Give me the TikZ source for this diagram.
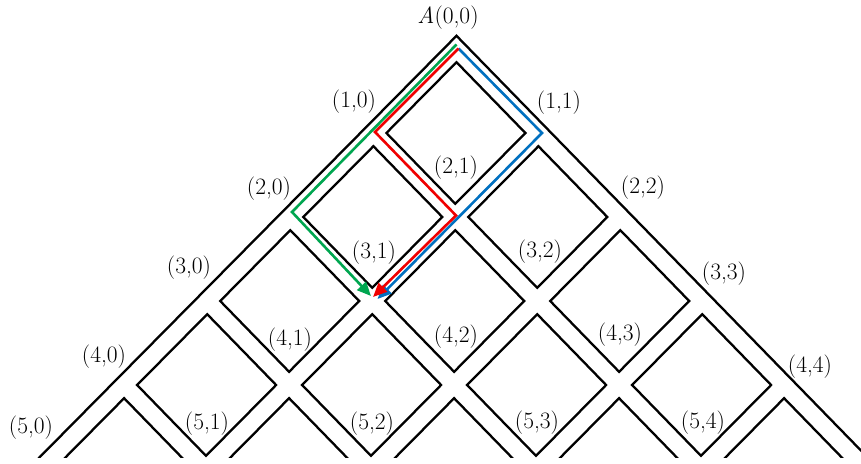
\documentclass[tikz,border=0pt]{standalone}
\usepackage{fontspec}
\usetikzlibrary{arrows.meta,calc}
\definecolor{pgreen}{RGB}{0,166,80}
\definecolor{pred}{RGB}{240,0,0}
\definecolor{pblue}{RGB}{0,112,192}
\begin{document}
\begin{tikzpicture}[x=1pt,y=-1pt,
  street/.style={draw=black,line width=2.3pt},
  lab/.style={font=\fontsize{23.5}{28}\selectfont,inner sep=0pt},
  route/.style={line width=2.6pt,-{Triangle[length=14pt,width=12pt]}}]
\useasboundingbox (0,0) rectangle (861,463);
\def\ox{456.5}\def\oy{49}\def\dx{82.5}\def\dy{84}\def\sk{0.6}\def\hh{13}\def\hv{13.2}
\begin{scope}
\clip (0,0) rectangle (861,457);
\foreach \i in {0,...,4}{
  \foreach \j in {0,...,\i}{
    \pgfmathsetmacro\tx{\ox+(2*\j-\i)*\dx-\sk*\i}
    \pgfmathsetmacro\ty{\oy+\i*\dy+\hv}
    \pgfmathsetmacro\lx{\ox+(2*\j-\i-1)*\dx-\sk*(\i+1)+\hh}
    \pgfmathsetmacro\ly{\oy+(\i+1)*\dy}
    \pgfmathsetmacro\rx{\ox+(2*\j-\i+1)*\dx-\sk*(\i+1)-\hh}
    \pgfmathsetmacro\bx{\ox+(2*\j-\i)*\dx-\sk*(\i+2)}
    \pgfmathsetmacro\by{\oy+(\i+2)*\dy-\hv}
    \draw[street] (\tx,\ty) -- (\lx,\ly) -- (\bx,\by) -- (\rx,\ly) -- cycle;
  }
}
\pgfmathsetmacro\Lx{\ox-6*\dx-6*\sk-\hh}
\pgfmathsetmacro\Rx{\ox+6*\dx-6*\sk+\hh}
\pgfmathsetmacro\By{\oy+6*\dy}
\pgfmathsetmacro\Ay{\oy-\hv}
\coordinate (apex) at (\ox,\Ay);
\coordinate (lend) at (\Lx,\By);
\coordinate (rend) at (\Rx,\By);
\draw[street] (lend) -- (apex) -- (rend);
\end{scope}
% routes
\coordinate (g0) at (456.5,44.5);
\coordinate (g1) at (292,212);
\coordinate (g2) at (371,296);
\coordinate (r0) at (458.5,48.5);
\coordinate (r1) at (375,132);
\coordinate (r2) at (456,215.5);
\coordinate (r3) at (373,297);
\coordinate (b1) at (542,133);
\coordinate (b2) at (377.5,299);
\draw[route,pblue] (r0) -- (b1) -- (b2);
\draw[route,pred] (r0) -- (r1) -- (r2) -- (r3);
\draw[route,pgreen] (g0) -- (g1) -- (g2);
% labels
\node[lab] (l00) at (448,18) {\textit{A}(0,0)};
\node[lab] (l10) at (354,102) {(1,0)};
\node[lab] (l11) at (559,103) {(1,1)};
\node[lab] (l20) at (269,189) {(2,0)};
\node[lab] (l21) at (456,168) {(2,1)};
\node[lab] (l22) at (643,188) {(2,2)};
\node[lab] (l30) at (189,268) {(3,0)};
\node[lab] (l31) at (374,253) {(3,1)};
\node[lab] (l32) at (540,252) {(3,2)};
\node[lab] (l33) at (724,274) {(3,3)};
\node[lab] (l40) at (104,357) {(4,0)};
\node[lab] (l41) at (290,340) {(4,1)};
\node[lab] (l42) at (456,337) {(4,2)};
\node[lab] (l43) at (620,335) {(4,3)};
\node[lab] (l44) at (810,367) {(4,4)};
\node[lab] (l50) at (31,428) {(5,0)};
\node[lab] (l51) at (207,424) {(5,1)};
\node[lab] (l52) at (372,424) {(5,2)};
\node[lab] (l53) at (537,423) {(5,3)};
\node[lab] (l54) at (703,423) {(5,4)};
\end{tikzpicture}
\end{document}
